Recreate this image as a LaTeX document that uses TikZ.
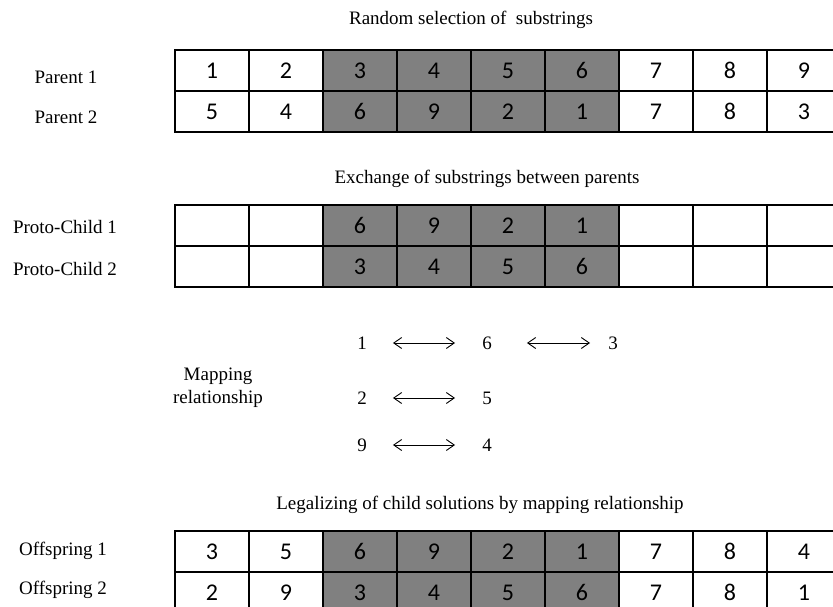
\documentclass[tikz,border=0pt]{standalone}
\usepackage{fontspec}
\setmainfont{Liberation Serif}
\newfontfamily\cellfont{Carlito}
\usetikzlibrary{positioning,arrows.meta}

\tikzset{
  cell/.style={draw, line width=1.3pt, minimum width=74pt, minimum height=41pt,
    inner sep=0pt, font=\cellfont\fontsize{24}{26}\selectfont},
  swapcell/.style={cell, fill=gray},
  lbl/.style={font=\fontsize{19}{23}\selectfont},
  maplbl/.style={lbl, inner sep=0pt},
  maparrow/.style={{Straight Barb[length=8pt,width=11pt]}-{Straight Barb[length=8pt,width=11pt]},
    line width=0.9pt},
}

% one row of nine cells, the middle four shaded
\newcommand{\cellrow}[3]{%
  \foreach \v [count=\i] in {#3} {
    \ifnum\i<3 \def\cs{cell}\else\ifnum\i>6 \def\cs{cell}\else\def\cs{swapcell}\fi\fi
    \node[\cs] (#1-\i) at ({175+74*(\i-0.5)}, #2) {\v};
  }}

\begin{document}
\begin{tikzpicture}[x=1pt, y=-1pt]
\clip (0,0) rectangle (833,607);
\fill[white] (0,0) rectangle (833,607);

% parents
\node[lbl] (title1) at (471,20) {Random selection of~~substrings};
\node[lbl] (par1) at (66,77) {Parent 1};
\node[lbl] (par2) at (66,117) {Parent 2};
\cellrow{pa}{70.5}{1,2,3,4,5,6,7,8,9}
\cellrow{pb}{111.5}{5,4,6,9,2,1,7,8,3}

% proto-children
\node[lbl] (title2) at (487,179) {Exchange of substrings between parents};
\node[lbl] (proto1) at (65,227) {Proto-Child 1};
\node[lbl] (proto2) at (65,269) {Proto-Child 2};
\cellrow{ca}{225.5}{{},{},6,9,2,1,{},{},{}}
\cellrow{cb}{266.5}{{},{},3,4,5,6,{},{},{}}

% mapping relationship
\node[lbl, align=center] (maptext) at (218,388) {Mapping\\relationship};
\node[maplbl] (m1) at (362,343) {1};
\node[maplbl] (m6) at (487,343) {6};
\node[maplbl] (m3) at (613,343) {3};
\node[maplbl] (m2) at (362,398) {2};
\node[maplbl] (m5) at (487,398) {5};
\node[maplbl] (m9) at (362,445) {9};
\node[maplbl] (m4) at (487,445) {4};
\draw[maparrow, shorten <=26pt, shorten >=27pt] (m1) -- (m6);
\draw[maparrow, shorten <=35pt, shorten >=18pt] (m6) -- (m3);
\draw[maparrow, shorten <=26pt, shorten >=27pt] (m2) -- (m5);
\draw[maparrow, shorten <=26pt, shorten >=27pt] (m9) -- (m4);

% offspring
\node[lbl] (title3) at (480,505) {Legalizing of child solutions by mapping relationship};
\node[lbl] (off1) at (63,551) {Offspring 1};
\node[lbl] (off2) at (63,590) {Offspring 2};
\cellrow{oa}{551.5}{3,5,6,9,2,1,7,8,4}
\cellrow{ob}{592.5}{2,9,3,4,5,6,7,8,1}
\end{tikzpicture}
\end{document}
